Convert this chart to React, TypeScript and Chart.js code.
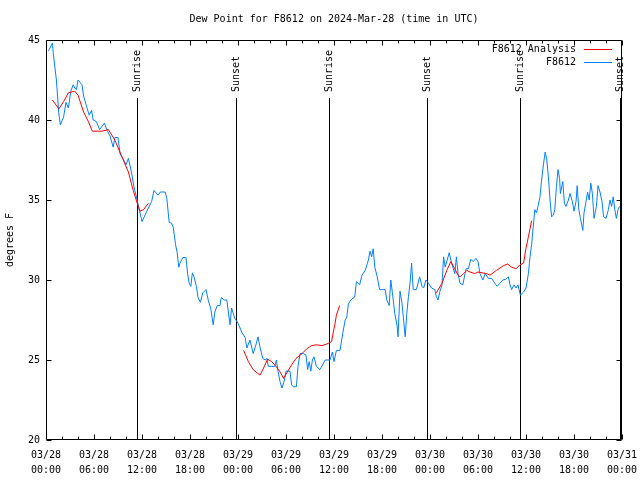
import React, { useEffect, useRef } from "react";
import { Chart, registerables } from "chart.js";

Chart.register(...registerables);

const TITLE = "Dew Point for F8612 on 2024-Mar-28 (time in UTC)";
const Y_TITLE = "degrees F";
const FONT_FAMILY = '"DejaVu Sans Mono", "Liberation Mono", monospace';

// hours since 2024-03-28 00:00 UTC
const xTickLabels: string[][] = [
  ["03/28", "00:00"], ["03/28", "06:00"], ["03/28", "12:00"], ["03/28", "18:00"],
  ["03/29", "00:00"], ["03/29", "06:00"], ["03/29", "12:00"], ["03/29", "18:00"],
  ["03/30", "00:00"], ["03/30", "06:00"], ["03/30", "12:00"], ["03/30", "18:00"],
  ["03/31", "00:00"],
];
const yTickLabels = ["20", "25", "30", "35", "40", "45"];

const sunriseHours = [11.4, 35.4, 59.3];
const sunsetHours = [23.8, 47.65, 71.7];

const obsLabel = "F8612";
const obsHours = [
  0.3, 0.8, 0.9, 1.3, 1.6, 1.8, 2.2, 2.5, 2.8, 3.1, 3.4, 3.6, 3.8, 4.0, 4.5, 4.7, 5.1, 5.4, 5.7, 5.9,
  6.3, 6.7, 7.0, 7.3, 7.6, 8.0, 8.4, 8.6, 9.0, 9.25, 9.7, 10.0, 10.3, 10.7, 11.0, 11.3, 11.7, 12.0, 12.6, 13.2,
  13.5, 14.0, 14.3, 14.9, 15.1, 15.4, 15.7, 15.9, 16.2, 16.4, 16.6, 16.75, 17.1, 17.5, 17.7, 17.9, 18.1, 18.3, 18.5, 18.8,
  19.0, 19.3, 19.6, 20.0, 20.3, 20.6, 20.9, 21.1, 21.4, 21.75, 21.9, 22.3, 22.6, 23.0, 23.2, 23.6, 24.0, 24.5, 24.9, 25.1,
  25.5, 25.9, 26.3, 26.5, 26.75, 27.1, 27.4, 27.6, 27.8, 28.2, 28.6, 28.8, 29.0, 29.25, 29.5, 29.8, 30.0, 30.5, 30.7, 30.9,
  31.3, 31.5, 31.75, 32.2, 32.5, 32.7, 32.9, 33.1, 33.3, 33.5, 33.8, 34.25, 34.9, 35.5, 35.8, 36.0, 36.3, 36.75, 37.1, 37.4,
  37.6, 37.8, 38.1, 38.6, 38.8, 39.2, 39.5, 39.9, 40.3, 40.5, 40.7, 40.9, 41.1, 41.4, 41.7, 42.4, 42.6, 42.9, 43.1, 43.3,
  43.6, 43.9, 44.0, 44.25, 44.5, 44.7, 44.9, 45.1, 45.3, 45.5, 45.7, 45.9, 46.3, 46.7, 47.0, 47.2, 47.5, 47.8, 48.2, 48.6,
  48.8, 49.0, 49.25, 49.5, 49.7, 49.9, 50.4, 50.7, 51.1, 51.3, 51.5, 51.75, 52.1, 52.5, 52.8, 53.1, 53.4, 53.75, 54.0, 54.25,
  54.6, 54.9, 55.3, 55.7, 56.1, 56.4, 56.75, 57.1, 57.5, 57.8, 58.0, 58.2, 58.5, 58.75, 59.0, 59.3, 59.7, 60.0, 60.3, 60.5,
  60.7, 60.9, 61.1, 61.3, 61.5, 61.75, 61.95, 62.2, 62.4, 62.6, 62.8, 63.0, 63.2, 63.4, 63.6, 63.8, 64.0, 64.2, 64.3, 64.6,
  64.8, 65.0, 65.3, 65.5, 65.8, 66.0, 66.25, 66.4, 66.6, 66.8, 67.1, 67.25, 67.5, 67.7, 67.9, 68.1, 68.3, 68.5, 68.8, 69.0,
  69.25, 69.5, 69.7, 70.0, 70.3, 70.5, 70.7, 70.9, 71.1, 71.3, 71.5, 71.7,
];
const obsValues = [
  44.3, 44.8, 44.2, 42.5, 40.4, 39.7, 40.2, 41.1, 40.75, 41.8, 42.2, 42.0, 41.9, 42.5, 42.2, 41.5, 40.8, 40.3, 40.6, 40.0,
  39.9, 39.4, 39.6, 39.8, 39.4, 39.0, 38.3, 38.9, 38.9, 37.9, 37.5, 37.2, 37.6, 36.7, 35.8, 35.2, 34.3, 33.65, 34.3, 34.9,
  35.6, 35.3, 35.5, 35.5, 35.1, 33.6, 33.55, 33.3, 32.2, 31.7, 30.8, 31.05, 31.4, 31.4, 30.4, 29.8, 29.6, 30.45, 30.2, 29.6,
  28.9, 28.6, 29.2, 29.4, 28.7, 28.2, 27.2, 28.0, 28.4, 28.4, 28.9, 28.75, 28.75, 27.2, 28.25, 27.6, 27.3, 26.7, 26.4, 25.75,
  26.25, 25.4, 26.05, 26.45, 25.8, 25.1, 25.0, 25.1, 24.6, 24.6, 24.6, 25.0, 24.3, 23.65, 23.25, 23.75, 24.3, 24.3, 23.45, 23.33,
  23.33, 24.6, 25.4, 25.4, 25.3, 24.4, 24.9, 24.3, 25.0, 25.2, 24.6, 24.4, 25.0, 25.0, 25.5, 24.9, 25.6, 25.6, 26.7, 27.5,
  27.7, 28.5, 28.75, 28.95, 29.9, 29.7, 30.3, 30.6, 31.25, 31.8, 31.45, 31.95, 30.8, 30.2, 29.4, 29.4, 28.75, 28.4, 30.0, 29.2,
  27.9, 27.1, 26.45, 29.3, 28.55, 27.5, 26.45, 27.9, 28.95, 29.8, 31.05, 29.4, 29.4, 30.2, 29.6, 29.5, 30.0, 29.8, 29.5, 29.4,
  28.95, 28.75, 29.3, 29.7, 31.45, 30.8, 31.7, 31.05, 30.4, 31.45, 30.4, 29.8, 29.7, 30.7, 30.7, 31.3, 31.15, 31.35, 31.15, 30.4,
  30.0, 30.4, 30.1, 30.1, 29.8, 29.6, 29.8, 30.0, 30.05, 30.2, 29.7, 29.4, 29.7, 29.5, 29.7, 29.05, 29.25, 29.5, 30.4, 31.45,
  32.2, 33.3, 34.4, 34.2, 34.6, 35.2, 36.25, 37.3, 38.0, 37.5, 36.45, 35.0, 33.95, 34.05, 34.4, 35.8, 36.9, 36.35, 35.4, 36.15,
  34.8, 34.6, 35.0, 35.4, 34.9, 34.3, 34.9, 35.9, 34.4, 33.85, 33.1, 34.2, 34.9, 35.5, 35.0, 36.05, 35.4, 33.85, 34.6, 35.9,
  35.5, 34.9, 33.95, 33.85, 34.4, 35.0, 34.6, 35.2, 34.4, 33.85, 34.4, 34.6,
];

const anaLabel = "F8612 Analysis";
const anaHours = [
  0.8, 1.6, 2.2, 2.8, 3.6, 4.0, 4.7, 5.3, 5.8, 7.0, 7.8, 8.6, 9.5, 10.3, 10.9, 11.4, 11.75, 12.2, 12.8,
  18.0,
  24.7, 25.3, 25.9, 26.75, 27.2, 27.7, 28.2, 28.6, 29.2, 29.7, 30.1, 30.7, 31.25, 32.0, 32.6, 33.2, 33.8, 34.5, 35.1, 35.7,
  35.9, 36.1, 36.3, 36.7,
  42.0,
  48.8, 49.5, 50.1, 50.6, 51.1, 51.5, 51.75, 52.2, 52.6, 53.0, 53.6, 54.0, 54.5, 55.1, 55.5, 56.3, 57.2, 57.7, 58.2, 58.75,
  59.25, 59.7, 60.0, 60.3, 60.5, 60.7,
];
const anaValues: (number | null)[] = [
  41.25, 40.7, 41.15, 41.7, 41.8, 41.55, 40.5, 39.9, 39.3, 39.3, 39.4, 38.75, 37.7, 36.75, 35.6, 34.8, 34.3, 34.4, 34.8,
  null,
  25.6, 24.9, 24.4, 24.05, 24.5, 25.05, 24.9, 24.7, 24.3, 23.85, 24.2, 24.7, 25.1, 25.4, 25.7, 25.9, 25.95, 25.9, 26.0, 26.15,
  26.7, 27.2, 27.8, 28.4,
  null,
  29.2, 29.8, 30.6, 31.15, 30.7, 30.3, 30.2, 30.4, 30.6, 30.5, 30.4, 30.5, 30.45, 30.4, 30.3, 30.6, 30.9, 31.0, 30.8, 30.7,
  30.95, 31.05, 32.0, 32.7, 33.2, 33.7,
];

const RED = "rgb(255,0,0)";
const BLUE = "rgb(0,128,255)";

const font = (px: number) => `${px}px ${FONT_FAMILY}`;

const decorPlugin = {
  id: "gnuDecor",
  beforeDatasetsDraw(chart: any) {
    const { ctx, chartArea, scales } = chart;
    const xs = scales.x;
    ctx.save();
    ctx.strokeStyle = "#000";
    ctx.lineWidth = 1;
    ctx.fillStyle = "#000";
    ctx.font = font(10);
    const drawSun = (h: number, label: string) => {
      const x = Math.round(xs.getPixelForValue(h)) + 0.5;
      ctx.beginPath();
      ctx.moveTo(x, 98);
      ctx.lineTo(x, chartArea.bottom);
      ctx.stroke();
      ctx.save();
      ctx.translate(x, 92);
      ctx.rotate(-Math.PI / 2);
      ctx.textAlign = "left";
      ctx.textBaseline = "middle";
      ctx.fillText(label, 0, 0);
      ctx.restore();
    };
    sunriseHours.forEach((h) => drawSun(h, "Sunrise"));
    sunsetHours.forEach((h) => drawSun(h, "Sunset"));
    ctx.restore();
  },
  afterDatasetsDraw(chart: any) {
    const { ctx, chartArea, scales } = chart;
    const xs = scales.x;
    const ys = scales.y;
    const L = chartArea.left + 0.5;
    const R = chartArea.right - 0.5;
    const T = chartArea.top + 0.5;
    const B = chartArea.bottom - 0.5;
    ctx.save();
    ctx.strokeStyle = "#000";
    ctx.lineWidth = 1;
    ctx.beginPath();
    ctx.rect(L, T, R - L, B - T);
    // x ticks (major every 6 h, minor every 2 h), bottom and top
    for (let h = 0; h <= 72; h += 2) {
      const x = Math.round(xs.getPixelForValue(h)) + 0.5;
      const len = h % 6 === 0 ? 5 : 3;
      ctx.moveTo(x, B);
      ctx.lineTo(x, B - len);
      ctx.moveTo(x, T);
      ctx.lineTo(x, T + len);
    }
    // y ticks, left and right
    yTickLabels.forEach((t) => {
      const y = Math.round(ys.getPixelForValue(Number(t))) + 0.5;
      ctx.moveTo(L, y);
      ctx.lineTo(L + 5, y);
      ctx.moveTo(R, y);
      ctx.lineTo(R - 5, y);
    });
    ctx.stroke();

    // title
    ctx.fillStyle = "#000";
    ctx.font = font(10);
    ctx.textAlign = "center";
    ctx.textBaseline = "middle";
    ctx.fillText(TITLE, (chartArea.left + chartArea.right) / 2, 19);

    // legend
    const entries = [
      { label: chart.data.datasets[0].label, color: chart.data.datasets[0].borderColor, y: 49 },
      { label: chart.data.datasets[1].label, color: chart.data.datasets[1].borderColor, y: 62 },
    ];
    entries.forEach((e) => {
      ctx.fillStyle = "#000";
      ctx.textAlign = "right";
      ctx.textBaseline = "middle";
      ctx.fillText(e.label, 576, e.y);
      ctx.strokeStyle = e.color;
      ctx.beginPath();
      ctx.moveTo(584, e.y + 0.5);
      ctx.lineTo(612, e.y + 0.5);
      ctx.stroke();
    });
    ctx.restore();
  },
};

export default function App() {
  const canvasRef = useRef<HTMLCanvasElement | null>(null);

  useEffect(() => {
    const canvas = canvasRef.current;
    if (!canvas) return;
    const chart = new Chart(canvas, {
      type: "line",
      data: {
        datasets: [
          {
            label: anaLabel,
            data: anaHours.map((h, i) => ({ x: h, y: anaValues[i] })) as any,
            borderColor: RED,
            borderWidth: 1,
            pointRadius: 0,
            tension: 0,
            spanGaps: false,
            fill: false,
          },
          {
            label: obsLabel,
            data: obsHours.map((h, i) => ({ x: h, y: obsValues[i] })),
            borderColor: BLUE,
            borderWidth: 1,
            pointRadius: 0,
            tension: 0,
            fill: false,
          },
        ],
      },
      options: {
        animation: false,
        responsive: false,
        maintainAspectRatio: false,
        layout: { padding: { left: 0, right: 18, top: 40, bottom: 0 } },
        plugins: {
          legend: { display: false },
          tooltip: { enabled: false },
          title: { display: false },
        },
        scales: {
          x: {
            type: "linear",
            min: 0,
            max: 72,
            grid: { display: false, drawTicks: false },
            border: { display: false },
            ticks: {
              stepSize: 6,
              autoSkip: false,
              maxRotation: 0,
              minRotation: 0,
              padding: 8,
              color: "#000",
              font: { family: FONT_FAMILY, size: 10, lineHeight: 1.5 },
              callback: (v: any) => xTickLabels[Math.round(Number(v) / 6)],
            },
            afterFit: (s: any) => {
              s.height = 40;
              s.paddingLeft = 0;
              s.paddingRight = 0;
            },
          },
          y: {
            type: "linear",
            min: 20,
            max: 45,
            grid: { display: false, drawTicks: false },
            border: { display: false },
            title: {
              display: true,
              text: Y_TITLE,
              color: "#000",
              font: { family: FONT_FAMILY, size: 10 },
              padding: { top: 4, bottom: 0 },
            },
            ticks: {
              stepSize: 5,
              padding: 6,
              color: "#000",
              font: { family: FONT_FAMILY, size: 10 },
              callback: (v: any) => yTickLabels[Math.round((Number(v) - 20) / 5)],
            },
            afterFit: (s: any) => {
              s.width = 46;
              s.paddingTop = 0;
              s.paddingBottom = 0;
            },
          },
        },
      },
      plugins: [decorPlugin],
    });
    return () => chart.destroy();
  }, []);

  return (
    <div style={{ position: "absolute", left: 0, top: 0, width: 640, height: 480, background: "#fff" }}>
      <canvas ref={canvasRef} width={640} height={480} style={{ width: 640, height: 480, display: "block" }} />
    </div>
  );
}
